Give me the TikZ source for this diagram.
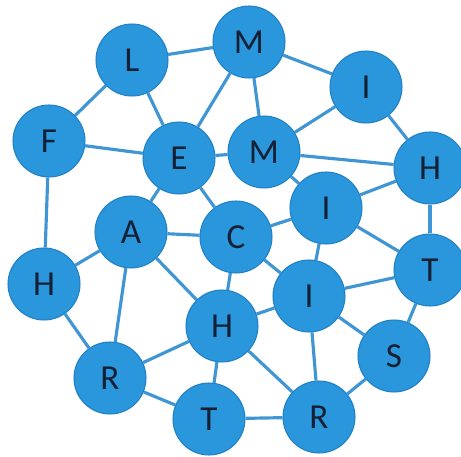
\documentclass[tikz,border=0pt]{standalone}
\usepackage{fontspec}
\setmainfont{Carlito}
\usepackage{tikz}
\usetikzlibrary{positioning}
\definecolor{dotfill}{RGB}{42,150,220}
\definecolor{dotline}{RGB}{34,128,196}
\definecolor{edgeblue}{RGB}{64,150,212}
\definecolor{lettercol}{RGB}{22,32,52}
\tikzset{
  vtx/.style={circle, draw=dotline, fill=dotfill, minimum size=1.44cm,
    inner sep=0pt, line width=0.6pt, font=\fontsize{20}{20}\selectfont,
    text=lettercol},
  link/.style={line width=1.8pt, color=edgeblue}
}
\begin{document}
\begin{tikzpicture}[x=0.02cm, y=-0.02cm]
  \useasboundingbox (0,0) rectangle (461,457);
  \node[vtx] (L)  at (132,60)  {L};
  \node[vtx] (M1) at (249,42)  {M};
  \node[vtx] (I1) at (366,87)  {I};
  \node[vtx] (F)  at (49,141)  {F};
  \node[vtx] (E)  at (179,158) {E};
  \node[vtx] (M2) at (264,152) {M};
  \node[vtx] (H1) at (430,168) {H};
  \node[vtx] (A)  at (131,232) {A};
  \node[vtx] (C)  at (236,237) {C};
  \node[vtx] (I2) at (326,208) {I};
  \node[vtx] (T1) at (430,270) {T};
  \node[vtx] (H2) at (44,284)  {H};
  \node[vtx] (I3) at (309,296) {I};
  \node[vtx] (H3) at (222,326) {H};
  \node[vtx] (S)  at (394,356) {S};
  \node[vtx] (R1) at (110,378) {R};
  \node[vtx] (T2) at (209,419) {T};
  \node[vtx] (R2) at (319,417) {R};
  % top part
  \draw[link] (L) -- (M1);
  \draw[link] (L) -- (F);
  \draw[link] (L) -- (E);
  \draw[link] (M1) -- (E);
  \draw[link] (M1) -- (M2);
  \draw[link] (M1) -- (I1);
  \draw[link] (I1) -- (M2);
  \draw[link] (I1) -- (H1);
  \draw[link] (F) -- (E);
  \draw[link] (F) -- (H2);
  \draw[link] (E) -- (M2);
  \draw[link] (E) -- (A);
  \draw[link] (E) -- (C);
  \draw[link] (M2) -- (H1);
  \draw[link] (M2) -- (I2);
  \draw[link] (H1) -- (I2);
  \draw[link] (H1) -- (T1);
  % middle
  \draw[link] (A) -- (C);
  \draw[link] (A) -- (H2);
  \draw[link] (A) -- (R1);
  \draw[link] (A) -- (H3);
  \draw[link] (C) -- (I2);
  \draw[link] (C) -- (H3);
  \draw[link] (C) -- (I3);
  \draw[link] (I2) -- (T1);
  \draw[link] (I2) -- (I3);
  \draw[link] (T1) -- (I3);
  \draw[link] (T1) -- (S);
  % bottom part
  \draw[link] (H2) -- (R1);
  \draw[link] (H3) -- (I3);
  \draw[link] (H3) -- (R1);
  \draw[link] (H3) -- (T2);
  \draw[link] (H3) -- (R2);
  \draw[link] (I3) -- (R2);
  \draw[link] (I3) -- (S);
  \draw[link] (R1) -- (T2);
  \draw[link] (T2) -- (R2);
  \draw[link] (R2) -- (S);
\end{tikzpicture}
\end{document}
